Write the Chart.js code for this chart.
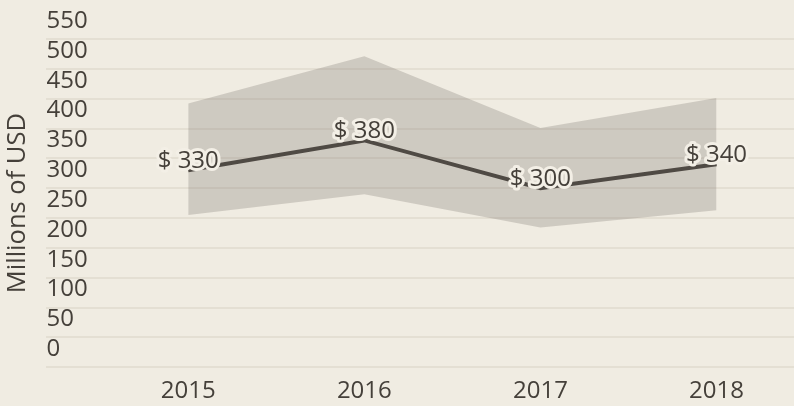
<!DOCTYPE html>
<html>
<head>
<meta charset="utf-8">
<script src="https://cdn.jsdelivr.net/npm/chart.js@4/dist/chart.umd.min.js"></script>
<style>
    html, body { margin: 0; padding: 0; background: #f0ece2; }
    #wrap { width: 794px; height: 406px; position: relative; }
</style>
</head>
<body>
<div id="wrap"><canvas id="revenueChart"></canvas></div>
<script>
// --- DATA ---
const years = ['2015', '2016', '2017', '2018'];
const revenue = [330, 380, 300, 340];
const rangeHigh = [442, 521, 401, 451];
const rangeLow = [255, 290, 234, 263];

const yTicks = [0, 50, 100, 150, 200, 250, 300, 350, 400, 450, 500, 550];

const textColor = '#45403a';
const fontFamily = '"Open Sans", "Noto Sans", sans-serif';

const toPoints = values => values.map((v, i) => ({ x: i, y: v }));

// labels "$ 330" with a light halo, drawn above each point of the line
const valueLabels = {
    id: 'valueLabels',
    afterDatasetsDraw(chart) {
        const meta = chart.getDatasetMeta(2);
        const ctx = chart.ctx;
        ctx.save();
        ctx.font = `24px ${fontFamily}`;
        ctx.textAlign = 'center';
        ctx.textBaseline = 'middle';
        ctx.lineJoin = 'round';
        meta.data.forEach((pt, i) => {
            const text = `$ ${revenue[i]}`;
            ctx.strokeStyle = '#f3efe6';
            ctx.lineWidth = 6;
            ctx.strokeText(text, pt.x, pt.y - 9);
            ctx.fillStyle = textColor;
            ctx.fillText(text, pt.x, pt.y - 9);
        });
        ctx.restore();
    }
};

const ctx = document.getElementById('revenueChart').getContext('2d');
new Chart(ctx, {
    type: 'line',
    data: {
        datasets: [
            {
                label: 'High',
                data: toPoints(rangeHigh),
                borderWidth: 0,
                pointRadius: 0,
                backgroundColor: 'rgba(128, 124, 117, 0.3)',
                fill: '+1'
            },
            {
                label: 'Low',
                data: toPoints(rangeLow),
                borderWidth: 0,
                pointRadius: 0,
                fill: false
            },
            {
                label: 'Revenue',
                data: toPoints(revenue),
                borderColor: '#3a3530',
                borderWidth: 4,
                pointRadius: 0,
                fill: false,
                tension: 0
            }
        ]
    },
    options: {
        responsive: true,
        maintainAspectRatio: false,
        animation: false,
        layout: { padding: { top: 39, left: 0, right: 0, bottom: -10 } },
        plugins: {
            legend: { display: false },
            tooltip: { enabled: false }
        },
        scales: {
            x: {
                type: 'linear',
                min: -0.81,
                max: 3.44,
                afterBuildTicks: axis => { axis.ticks = years.map((_, i) => ({ value: i })); },
                grid: { display: false, drawTicks: false },
                border: { display: false },
                ticks: {
                    padding: 10,
                    color: textColor,
                    font: { family: fontFamily, size: 24 },
                    callback: value => years[value]
                }
            },
            y: {
                min: 0,
                max: 550,
                afterBuildTicks: axis => { axis.ticks = yTicks.map(v => ({ value: v })); },
                grid: { color: '#e4dfd3', lineWidth: 2, drawTicks: false },
                border: { display: false },
                ticks: {
                    mirror: true,
                    autoSkip: false,
                    padding: 1,
                    labelOffset: -18,
                    color: textColor,
                    font: { family: fontFamily, size: 24 }
                },
                title: {
                    display: true,
                    text: 'Millions of USD',
                    color: textColor,
                    font: { family: fontFamily, size: 25.5 },
                    padding: { top: 2, bottom: 11 }
                }
            }
        }
    },
    plugins: [valueLabels]
});
</script>
</body>
</html>
